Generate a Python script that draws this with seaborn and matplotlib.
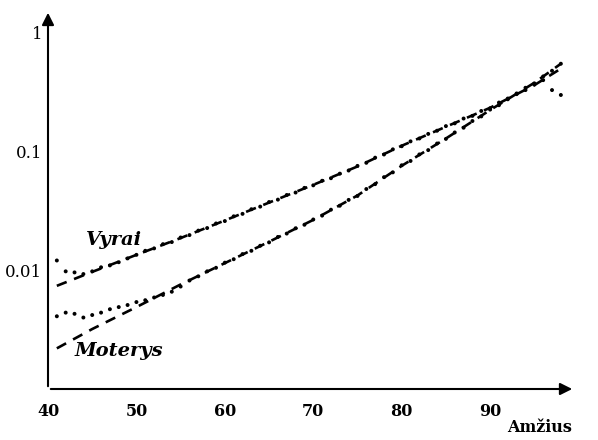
import numpy as np
import pandas as pd
import seaborn as sns
import matplotlib.pyplot as plt

# amzius (metai)
ages = list(range(41, 99))

# stebetas mirtingumas
vyrai_obs = [0.0121, 0.0098, 0.0096, 0.0093, 0.0098, 0.0106, 0.0110, 0.0117, 0.0126, 0.0135,
             0.0146, 0.0153, 0.0166, 0.0173, 0.0189, 0.0198, 0.0216, 0.0227, 0.0248, 0.0260,
             0.0285, 0.0299, 0.0327, 0.0344, 0.0376, 0.0394, 0.0431, 0.0452, 0.0495, 0.0520,
             0.0568, 0.0597, 0.0652, 0.0693, 0.0758, 0.0805, 0.0889, 0.0946, 0.1045, 0.111,
             0.122, 0.129, 0.141, 0.150, 0.164, 0.173, 0.190, 0.200, 0.220, 0.232,
             0.259, 0.276, 0.309, 0.330, 0.367, 0.40, 0.33, 0.30]
moterys_obs = [0.0041, 0.0044, 0.0043, 0.0040, 0.0042, 0.0044, 0.0047, 0.0049, 0.0051, 0.0054,
               0.0056, 0.0059, 0.0062, 0.0066, 0.0073, 0.0082, 0.0089, 0.0098, 0.0105, 0.0116,
               0.0124, 0.0137, 0.0146, 0.0161, 0.0172, 0.0191, 0.0204, 0.0226, 0.0242, 0.0268,
               0.0289, 0.0324, 0.0350, 0.0392, 0.0423, 0.0484, 0.0532, 0.0609, 0.0669, 0.0767,
               0.0834, 0.0947, 0.103, 0.117, 0.128, 0.145, 0.159, 0.181, 0.198, 0.226,
               0.246, 0.280, 0.305, 0.345, 0.376, 0.43, 0.48, 0.55]

# modelio kreives
fit_ages = [41, 45, 50, 55, 60, 65, 70, 75, 80, 85, 90, 95, 98]
vyrai_fit = [0.0074, 0.0097, 0.0135, 0.0187, 0.0263, 0.0372, 0.0525, 0.075, 0.112, 0.162, 0.234, 0.363, 0.50]
moterys_fit = [0.0022, 0.0032, 0.0049, 0.0076, 0.0115, 0.0174, 0.0266, 0.0427, 0.0759, 0.129, 0.224, 0.38, 0.55]

xticks = [40, 50, 60, 70, 80, 90]
yticks = [0.01, 0.1, 1]
ytick_labels = ['0.01', '0.1', '1']

obs = pd.DataFrame({'age': ages * 2,
                    'q': vyrai_obs + moterys_obs,
                    'lytis': ['Vyrai'] * len(ages) + ['Moterys'] * len(ages)})
fit = pd.DataFrame({'age': fit_ages * 2,
                    'q': vyrai_fit + moterys_fit,
                    'lytis': ['Vyrai'] * len(fit_ages) + ['Moterys'] * len(fit_ages)})

sns.set_style('white')
plt.rcParams['font.family'] = ['DejaVu Serif']
plt.rcParams['text.color'] = 'black'
plt.rcParams['xtick.color'] = 'black'
plt.rcParams['ytick.color'] = 'black'

fig = plt.figure(figsize=(5.98, 4.40), dpi=100)
ax = fig.add_axes([48 / 598, 1 - 389 / 440, (575 - 48) / 598, (389 - 10) / 440])

sns.scatterplot(data=obs, x='age', y='q', hue='lytis', palette=['black', 'black'],
                s=8, linewidth=0, legend=False, ax=ax)
for name in ['Vyrai', 'Moterys']:
    d = fit[fit['lytis'] == name]
    sns.lineplot(x=d['age'], y=d['q'], color='black', lw=1.9, ax=ax)
    ax.lines[-1].set_dashes((4, 3))

ax.set_yscale('log')
ax.set_xlim(40, 99.6)
ax.set_ylim(0.001, 1.56)
ax.set_xlabel('')
ax.set_ylabel('')

for s in ax.spines.values():
    s.set_visible(False)
ax.annotate('', xy=(1, 0), xycoords='axes fraction', xytext=(0, 0),
            arrowprops=dict(arrowstyle='-|>', color='black', lw=1.5, mutation_scale=18))
ax.annotate('', xy=(0, 1), xycoords='axes fraction', xytext=(0, 0),
            arrowprops=dict(arrowstyle='-|>', color='black', lw=1.5, mutation_scale=18))

ax.set_xticks(xticks)
ax.set_xticklabels([str(t) for t in xticks], fontweight='bold', fontsize=11.5)
ax.set_yticks(yticks)
ax.set_yticklabels(ytick_labels, fontsize=12)
ax.yaxis.set_minor_locator(plt.NullLocator())
ax.tick_params(axis='x', direction='inout', length=6, width=1.2, pad=7)
ax.tick_params(axis='y', direction='inout', length=8, width=1.2, pad=0)

ax.text(47.5, 0.018, 'Vyrai', fontsize=14, fontweight='bold', style='italic', ha='center', va='center')
ax.text(48.0, 0.0021, 'Moterys', fontsize=14, fontweight='bold', style='italic', ha='center', va='center')
fig.text(540 / 598, 1 - 427 / 440, 'Amžius', fontsize=11.5, fontweight='bold', ha='center', va='center')

fig.savefig('out.png', dpi=100)
